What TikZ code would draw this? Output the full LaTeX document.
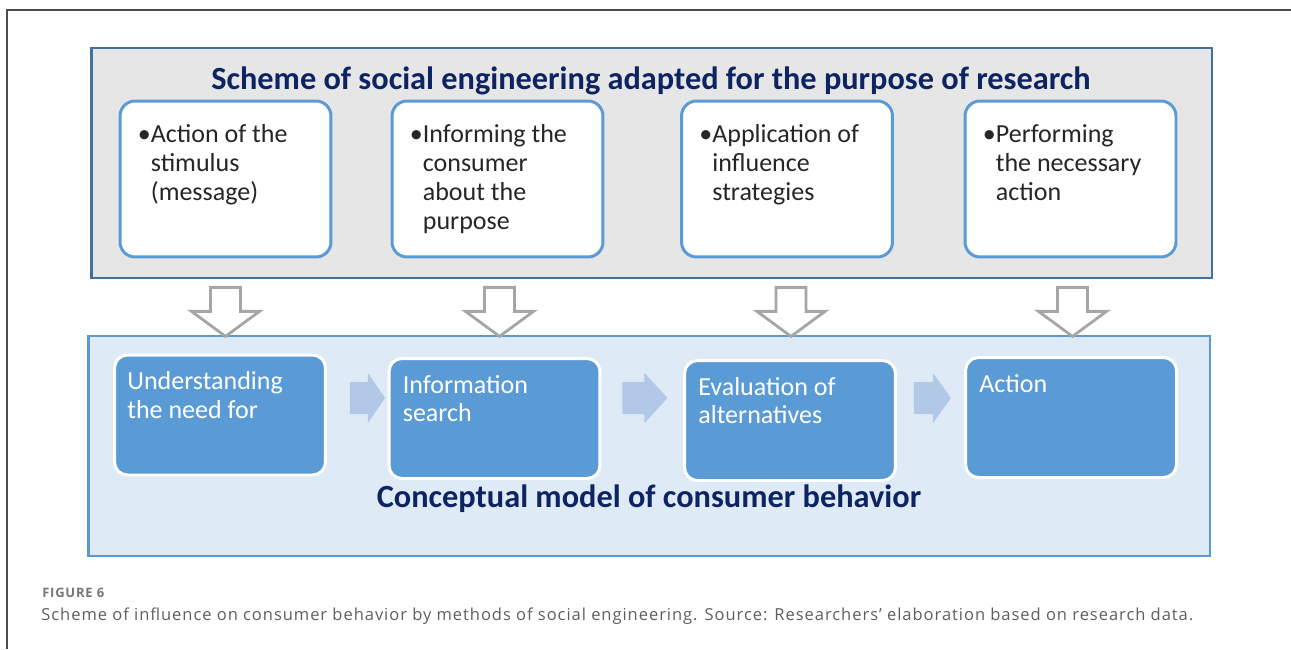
\documentclass[tikz,border=0pt]{standalone}
\usepackage{fontspec}
\setmainfont{Carlito}
\newfontfamily\capfont[LetterSpace=5.8]{Open Sans}
\usetikzlibrary{positioning,calc}
\definecolor{navy}{HTML}{0E2462}
\definecolor{panelgray}{HTML}{E6E6E6}
\definecolor{panelline}{HTML}{41719C}
\definecolor{boxline}{HTML}{5B9BD5}
\definecolor{boxfill}{HTML}{5B9BD5}
\definecolor{lightpanel}{HTML}{DEEAF6}
\definecolor{flowblue}{HTML}{B1C8E7}
\definecolor{hollowgray}{HTML}{A6A6A6}
\definecolor{captext}{HTML}{5E5E5E}

\begin{document}
\begin{tikzpicture}[x=0.02cm,y=-0.02cm,
	panel/.style={draw=panelline,line width=1.6pt,fill=panelgray,minimum width=22.42cm,minimum height=4.6cm,inner sep=0},
	lowpanel/.style={draw=boxline,line width=1.6pt,fill=lightpanel,minimum width=22.44cm,minimum height=4.4cm,inner sep=0},
	stagebox/.style={draw=boxline,line width=1.7pt,fill=white,rounded corners=0.3cm,minimum width=4.22cm,minimum height=3.12cm,inner sep=0},
	stepbox/.style={draw=white,line width=1.7pt,fill=boxfill,rounded corners=0.26cm,minimum width=4.22cm,minimum height=2.4cm,inner sep=0},
	bullettext/.style={inner sep=0,align=left,text=black!85,font=\fontsize{14.8}{16.5}\selectfont},
	steptext/.style={inner sep=0,align=left,text=white,font=\fontsize{14.8}{16.2}\selectfont},
	heading/.style={inner sep=0,text=navy,font=\bfseries\fontsize{18.4}{22}\selectfont},
	hollow/.style={draw=hollowgray,line width=1.6pt,fill=white,line join=miter},
	flow/.style={fill=flowblue}]

	\useasboundingbox (0,0) rectangle (1291,649);
	\draw[black!70,line width=0.8pt] (7,649) -- (7,10) -- (1291,10);

	\node[panel] (top) at (651.5,163) {};
	\node[heading,anchor=base] (t_head) at (651,89) {Scheme of social engineering adapted for the purpose of research};

	\node[stagebox] (s_1) at (225.5,179) {};
	\node[stagebox] (s_2) at (497.5,179) {};
	\node[stagebox] (s_3) at (787,179) {};
	\node[stagebox] (s_4) at (1070.5,179) {};

	\node[bullettext,below right=0.5cm and 0.64cm of s_1.north west] (s_1t) {\llap{•}Action of the\\stimulus\\(message)};
	\node[bullettext,below right=0.5cm and 0.64cm of s_2.north west] (s_2t) {\llap{•}Informing the\\consumer\\about the\\purpose};
	\node[bullettext,below right=0.5cm and 0.64cm of s_3.north west] (s_3t) {\llap{•}Application of\\influence\\strategies};
	\node[bullettext,below right=0.5cm and 0.64cm of s_4.north west] (s_4t) {\llap{•}Performing\\the necessary\\action};

	\node[lowpanel] (low) at (649,446) {};

	\node[stepbox] (c_1) at (220,415) {};
	\node[stepbox] (c_2) at (494.5,418.5) {};
	\node[stepbox] (c_3) at (790,420.5) {};
	\node[stepbox] (c_4) at (1071,417.5) {};

	\node[steptext,below right=0.36cm and 0.28cm of c_1.north west] (c_1t) {Understanding\\the need for};
	\node[steptext,below right=0.36cm and 0.3cm of c_2.north west] (c_2t) {Information\\search};
	\node[steptext,below right=0.36cm and 0.3cm of c_3.north west] (c_3t) {Evaluation of\\alternatives};
	\node[steptext,below right=0.36cm and 0.3cm of c_4.north west] (c_4t) {Action};

	\node[heading,anchor=base] (c_head) at (649,507) {Conceptual model of consumer behavior};

	\coordinate (d_1) at ($(s_1.south |- top.south)+(0,8)$);
	\coordinate (d_2) at ($(s_2.south |- top.south)+(2,8)$);
	\coordinate (d_3) at ($(s_3.south |- top.south)+(4,8)$);
	\coordinate (d_4) at ($(s_4.south |- top.south)+(2,8)$);

	\draw[hollow] (d_1) ++(-15,0) -- ++(0,24) -- ++(-19,0) -- ++(34,25) -- ++(34,-25) -- ++(-19,0) -- ++(0,-24) -- cycle;
	\draw[hollow] (d_2) ++(-15,0) -- ++(0,24) -- ++(-19,0) -- ++(34,25) -- ++(34,-25) -- ++(-19,0) -- ++(0,-24) -- cycle;
	\draw[hollow] (d_3) ++(-15,0) -- ++(0,24) -- ++(-19,0) -- ++(34,25) -- ++(34,-25) -- ++(-19,0) -- ++(0,-24) -- cycle;
	\draw[hollow] (d_4) ++(-15,0) -- ++(0,24) -- ++(-19,0) -- ++(34,25) -- ++(34,-25) -- ++(-19,0) -- ++(0,-24) -- cycle;

	\coordinate (a_1) at ($(c_1.east |- 0,398)+(23,0)$);
	\coordinate (a_2) at ($(c_2.east |- 0,398)+(21,0)$);
	\coordinate (a_3) at ($(c_3.east |- 0,398)+(17,0)$);

	\fill[flow] (a_1) ++(0,-16) -- ++(18,0) -- ++(0,-9) -- ++(17,25) -- ++(-17,25) -- ++(0,-9) -- ++(-18,0) -- cycle;
	\fill[flow] (a_2) ++(0,-16) -- ++(22,0) -- ++(0,-9) -- ++(23,25) -- ++(-23,25) -- ++(0,-9) -- ++(-22,0) -- cycle;
	\fill[flow] (a_3) ++(0,-16) -- ++(19,0) -- ++(0,-9) -- ++(18,25) -- ++(-18,25) -- ++(0,-9) -- ++(-19,0) -- cycle;

	\node[inner sep=0,anchor=base west,text=captext!85,font=\capfont\bfseries\fontsize{7.4}{9}\selectfont] (fig) at (42,597) {FIGURE 6};
	\node[inner sep=0,anchor=base west,text=captext,font=\capfont\fontsize{9.4}{11}\selectfont] (cap) at (41,620) {Scheme of influence on consumer behavior by methods of social engineering. Source: Researchers’ elaboration based on research data.};
\end{tikzpicture}
\end{document}
